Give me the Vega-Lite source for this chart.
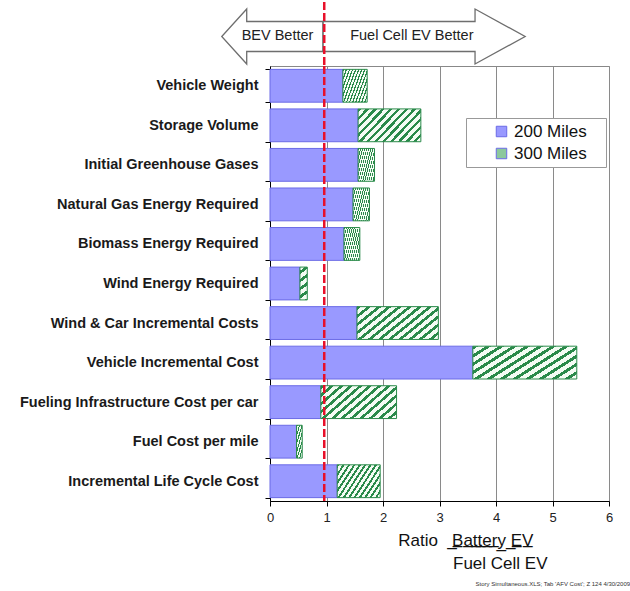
{
  "$schema": "https://vega.github.io/schema/vega-lite/v6.json",
  "background": "white",
  "padding": {"left": 19, "top": 0, "right": 4, "bottom": 4},
  "bounds": "flush",
  "spacing": 0,
  "config": {"font": "Liberation Sans"},
  "title": {"text": "Story Simultaneous.XLS; Tab 'AFV Cost'; Z 124  4/30/2009", "orient": "bottom", "anchor": "end", "fontSize": 6, "fontWeight": "normal", "color": "#333", "offset": 9, "dx": 17},
  "datasets": {
    "bars": [
      {"category": "Vehicle Weight", "miles200": 1.29, "miles300": 1.72},
      {"category": "Storage Volume", "miles200": 1.56, "miles300": 2.67},
      {"category": "Initial Greenhouse Gases", "miles200": 1.56, "miles300": 1.85},
      {"category": "Natural Gas Energy Required", "miles200": 1.47, "miles300": 1.76},
      {"category": "Biomass Energy Required", "miles200": 1.31, "miles300": 1.59},
      {"category": "Wind Energy Required", "miles200": 0.53, "miles300": 0.66},
      {"category": "Wind & Car Incremental Costs", "miles200": 1.54, "miles300": 2.98},
      {"category": "Vehicle  Incremental Cost", "miles200": 3.59, "miles300": 5.43},
      {"category": "Fueling Infrastructure Cost per car", "miles200": 0.9, "miles300": 2.24},
      {"category": "Fuel Cost per mile", "miles200": 0.47, "miles300": 0.57},
      {"category": "Incremental Life Cycle Cost", "miles200": 1.19, "miles300": 1.95}
    ],
    "arrows": [
      {"label": "BEV Better", "x": 0.133},
      {"label": "Fuel Cell EV Better", "x": 2.51}
    ],
    "ref": [{"ratio": 0.96}]
  },
  "vconcat": [
    {
      "width": 339,
      "height": 64,
      "view": {"stroke": null},
      "layer": [
        {
          "data": {"name": "arrows"},
          "mark": {"type": "point", "filled": true, "fill": "white", "opacity": 1, "stroke": "#6e6e6e", "strokeWidth": 1.3, "size": 163216},
          "encoding": {
            "x": {"field": "x", "type": "quantitative", "scale": {"domain": [0, 6], "nice": false}, "axis": null},
            "y": {"datum": 0.461, "type": "quantitative", "scale": {"domain": [0, 1]}, "axis": null},
            "shape": {"field": "label", "type": "nominal", "legend": null, "scale": {"domain": ["BEV Better", "Fuel Cell EV Better"], "range": ["M-0.276,0L-0.1525,-0.136L-0.1525,-0.0743L0.225,-0.0743L0.225,0.0743L-0.1525,0.0743L-0.1525,0.136Z", "M-0.439,-0.0743L0.313,-0.0743L0.313,-0.136L0.561,0L0.313,0.136L0.313,0.0743L-0.439,0.0743Z"]}}
          }
        },
        {
          "data": {"name": "arrows"},
          "mark": {"type": "text", "fontSize": 14.5, "color": "#222"},
          "encoding": {
            "x": {"field": "x", "type": "quantitative"},
            "y": {"datum": 0.461, "type": "quantitative"},
            "text": {"field": "label"}
          }
        },
        {
          "data": {"name": "ref"},
          "mark": {"type": "rule", "color": "#e8102a", "strokeWidth": 2.5, "strokeDash": [8, 3]},
          "encoding": {"x": {"field": "ratio", "type": "quantitative"}}
        }
      ]
    },
    {
      "width": 339,
      "height": 435,
      "view": {"stroke": "#888"},
      "data": {"name": "bars"},
      "layer": [
        {
          "mark": {"type": "bar", "stroke": "#6b6be6", "strokeWidth": 1},
          "encoding": {
            "y": {"field": "category", "type": "nominal", "sort": null, "scale": {"paddingInner": 0.17, "paddingOuter": 0.085},
              "axis": {"title": null, "labelFontSize": 14.5, "labelFontWeight": "bold", "labelColor": "#1a1a1a", "labelPadding": 7, "tickSize": 5, "tickBand": "extent", "tickColor": "#000", "domainColor": "#000", "labelLimit": 400, "grid": false}},
            "x": {"field": "miles200", "type": "quantitative", "scale": {"domain": [0, 6], "nice": false},
              "axis": {"values": [0, 1, 2, 3, 4, 5, 6], "format": "d", "labelFontSize": 13, "labelColor": "#222", "labelPadding": 5, "tickSize": 5, "tickColor": "#000", "domainColor": "#000", "grid": true, "gridColor": "#8a8a8a", "labelFlush": false,
                "title": ["Ratio\u00a0\u00a0\u00a0\u0332B\u0332a\u0332t\u0332t\u0332e\u0332r\u0332y\u0332\u00a0\u0332E\u0332V\u0332\u00a0\u00a0\u00a0\u200b", "Fuel Cell EV"],
                "titleAlign": "right", "titleBaseline": "alphabetic", "titleX": 277, "titleY": 44, "titleFontSize": 17, "titleFontWeight": "normal", "titleLineHeight": 23.4, "titleColor": "#111"}},
            "fill": {"datum": "200 Miles", "type": "nominal",
              "scale": {"domain": ["200 Miles", "300 Miles"], "range": ["#9999ff", "#8cc89c"]},
              "legend": {"title": null, "orient": "none", "legendX": 196, "legendY": 116, "labelFontSize": 17, "labelColor": "#111", "symbolType": "square", "symbolSize": 110, "symbolStrokeWidth": 1, "fillColor": "white", "strokeColor": "#999", "padding": 5, "symbolOffset": 22, "rowPadding": 4, "labelOffset": 4, "labelExpr": "datum.label + '\u00a0\u00a0\u00a0\u200b'",
                "encode": {"symbols": {
                  "fill": {"condition": {"test": "datum.value === '300 Miles'", "value": {"gradient": "linear", "x1": 0, "y1": 0, "x2": 1, "y2": 1, "stops": [
                    {"offset": 0, "color": "#f4fcf4"}, {"offset": 0.18, "color": "#f4fcf4"}, {"offset": 0.18, "color": "#2a8a4a"}, {"offset": 0.36, "color": "#2a8a4a"},
                    {"offset": 0.36, "color": "#f4fcf4"}, {"offset": 0.56, "color": "#f4fcf4"}, {"offset": 0.56, "color": "#2a8a4a"}, {"offset": 0.74, "color": "#2a8a4a"},
                    {"offset": 0.74, "color": "#f4fcf4"}, {"offset": 1, "color": "#f4fcf4"}]}}, "value": "#9999ff"},
                  "stroke": {"condition": {"test": "datum.value === '300 Miles'", "value": "#2a8a4a"}, "value": "#6b6be6"}
                }}}}
          }
        },
        {
          "mark": {"type": "bar", "stroke": "#2a8a4a", "strokeWidth": 1,
            "fill": {"gradient": "linear", "x1": 0, "y1": 0, "x2": 1.2, "y2": 0.6, "stops": [
                {"offset": 0, "color": "#2a8a4a"}, {"offset": 0.035, "color": "#2a8a4a"}, {"offset": 0.035, "color": "#f4fcf4"}, {"offset": 0.0833, "color": "#f4fcf4"},
                {"offset": 0.0833, "color": "#2a8a4a"}, {"offset": 0.1183, "color": "#2a8a4a"}, {"offset": 0.1183, "color": "#f4fcf4"}, {"offset": 0.1667, "color": "#f4fcf4"},
                {"offset": 0.1667, "color": "#2a8a4a"}, {"offset": 0.2017, "color": "#2a8a4a"}, {"offset": 0.2017, "color": "#f4fcf4"}, {"offset": 0.25, "color": "#f4fcf4"},
                {"offset": 0.25, "color": "#2a8a4a"}, {"offset": 0.285, "color": "#2a8a4a"}, {"offset": 0.285, "color": "#f4fcf4"}, {"offset": 0.3333, "color": "#f4fcf4"},
                {"offset": 0.3333, "color": "#2a8a4a"}, {"offset": 0.3683, "color": "#2a8a4a"}, {"offset": 0.3683, "color": "#f4fcf4"}, {"offset": 0.4167, "color": "#f4fcf4"},
                {"offset": 0.4167, "color": "#2a8a4a"}, {"offset": 0.4517, "color": "#2a8a4a"}, {"offset": 0.4517, "color": "#f4fcf4"}, {"offset": 0.5, "color": "#f4fcf4"},
                {"offset": 0.5, "color": "#2a8a4a"}, {"offset": 0.535, "color": "#2a8a4a"}, {"offset": 0.535, "color": "#f4fcf4"}, {"offset": 0.5833, "color": "#f4fcf4"},
                {"offset": 0.5833, "color": "#2a8a4a"}, {"offset": 0.6183, "color": "#2a8a4a"}, {"offset": 0.6183, "color": "#f4fcf4"}, {"offset": 0.6667, "color": "#f4fcf4"},
                {"offset": 0.6667, "color": "#2a8a4a"}, {"offset": 0.7017, "color": "#2a8a4a"}, {"offset": 0.7017, "color": "#f4fcf4"}, {"offset": 0.75, "color": "#f4fcf4"},
                {"offset": 0.75, "color": "#2a8a4a"}, {"offset": 0.785, "color": "#2a8a4a"}, {"offset": 0.785, "color": "#f4fcf4"}, {"offset": 0.8333, "color": "#f4fcf4"},
                {"offset": 0.8333, "color": "#2a8a4a"}, {"offset": 0.8683, "color": "#2a8a4a"}, {"offset": 0.8683, "color": "#f4fcf4"}, {"offset": 0.9167, "color": "#f4fcf4"},
                {"offset": 0.9167, "color": "#2a8a4a"}, {"offset": 0.9517, "color": "#2a8a4a"}, {"offset": 0.9517, "color": "#f4fcf4"}, {"offset": 1, "color": "#f4fcf4"}
              ]}},
          "encoding": {
            "y": {"field": "category", "type": "nominal", "sort": null},
            "x": {"field": "miles200", "type": "quantitative"},
            "x2": {"field": "miles300"}
          }
        },
        {
          "data": {"name": "ref"},
          "mark": {"type": "rule", "color": "#e8102a", "strokeWidth": 2.5, "strokeDash": [8, 3]},
          "encoding": {"x": {"field": "ratio", "type": "quantitative"}}
        }
      ]
    }
  ]
}
